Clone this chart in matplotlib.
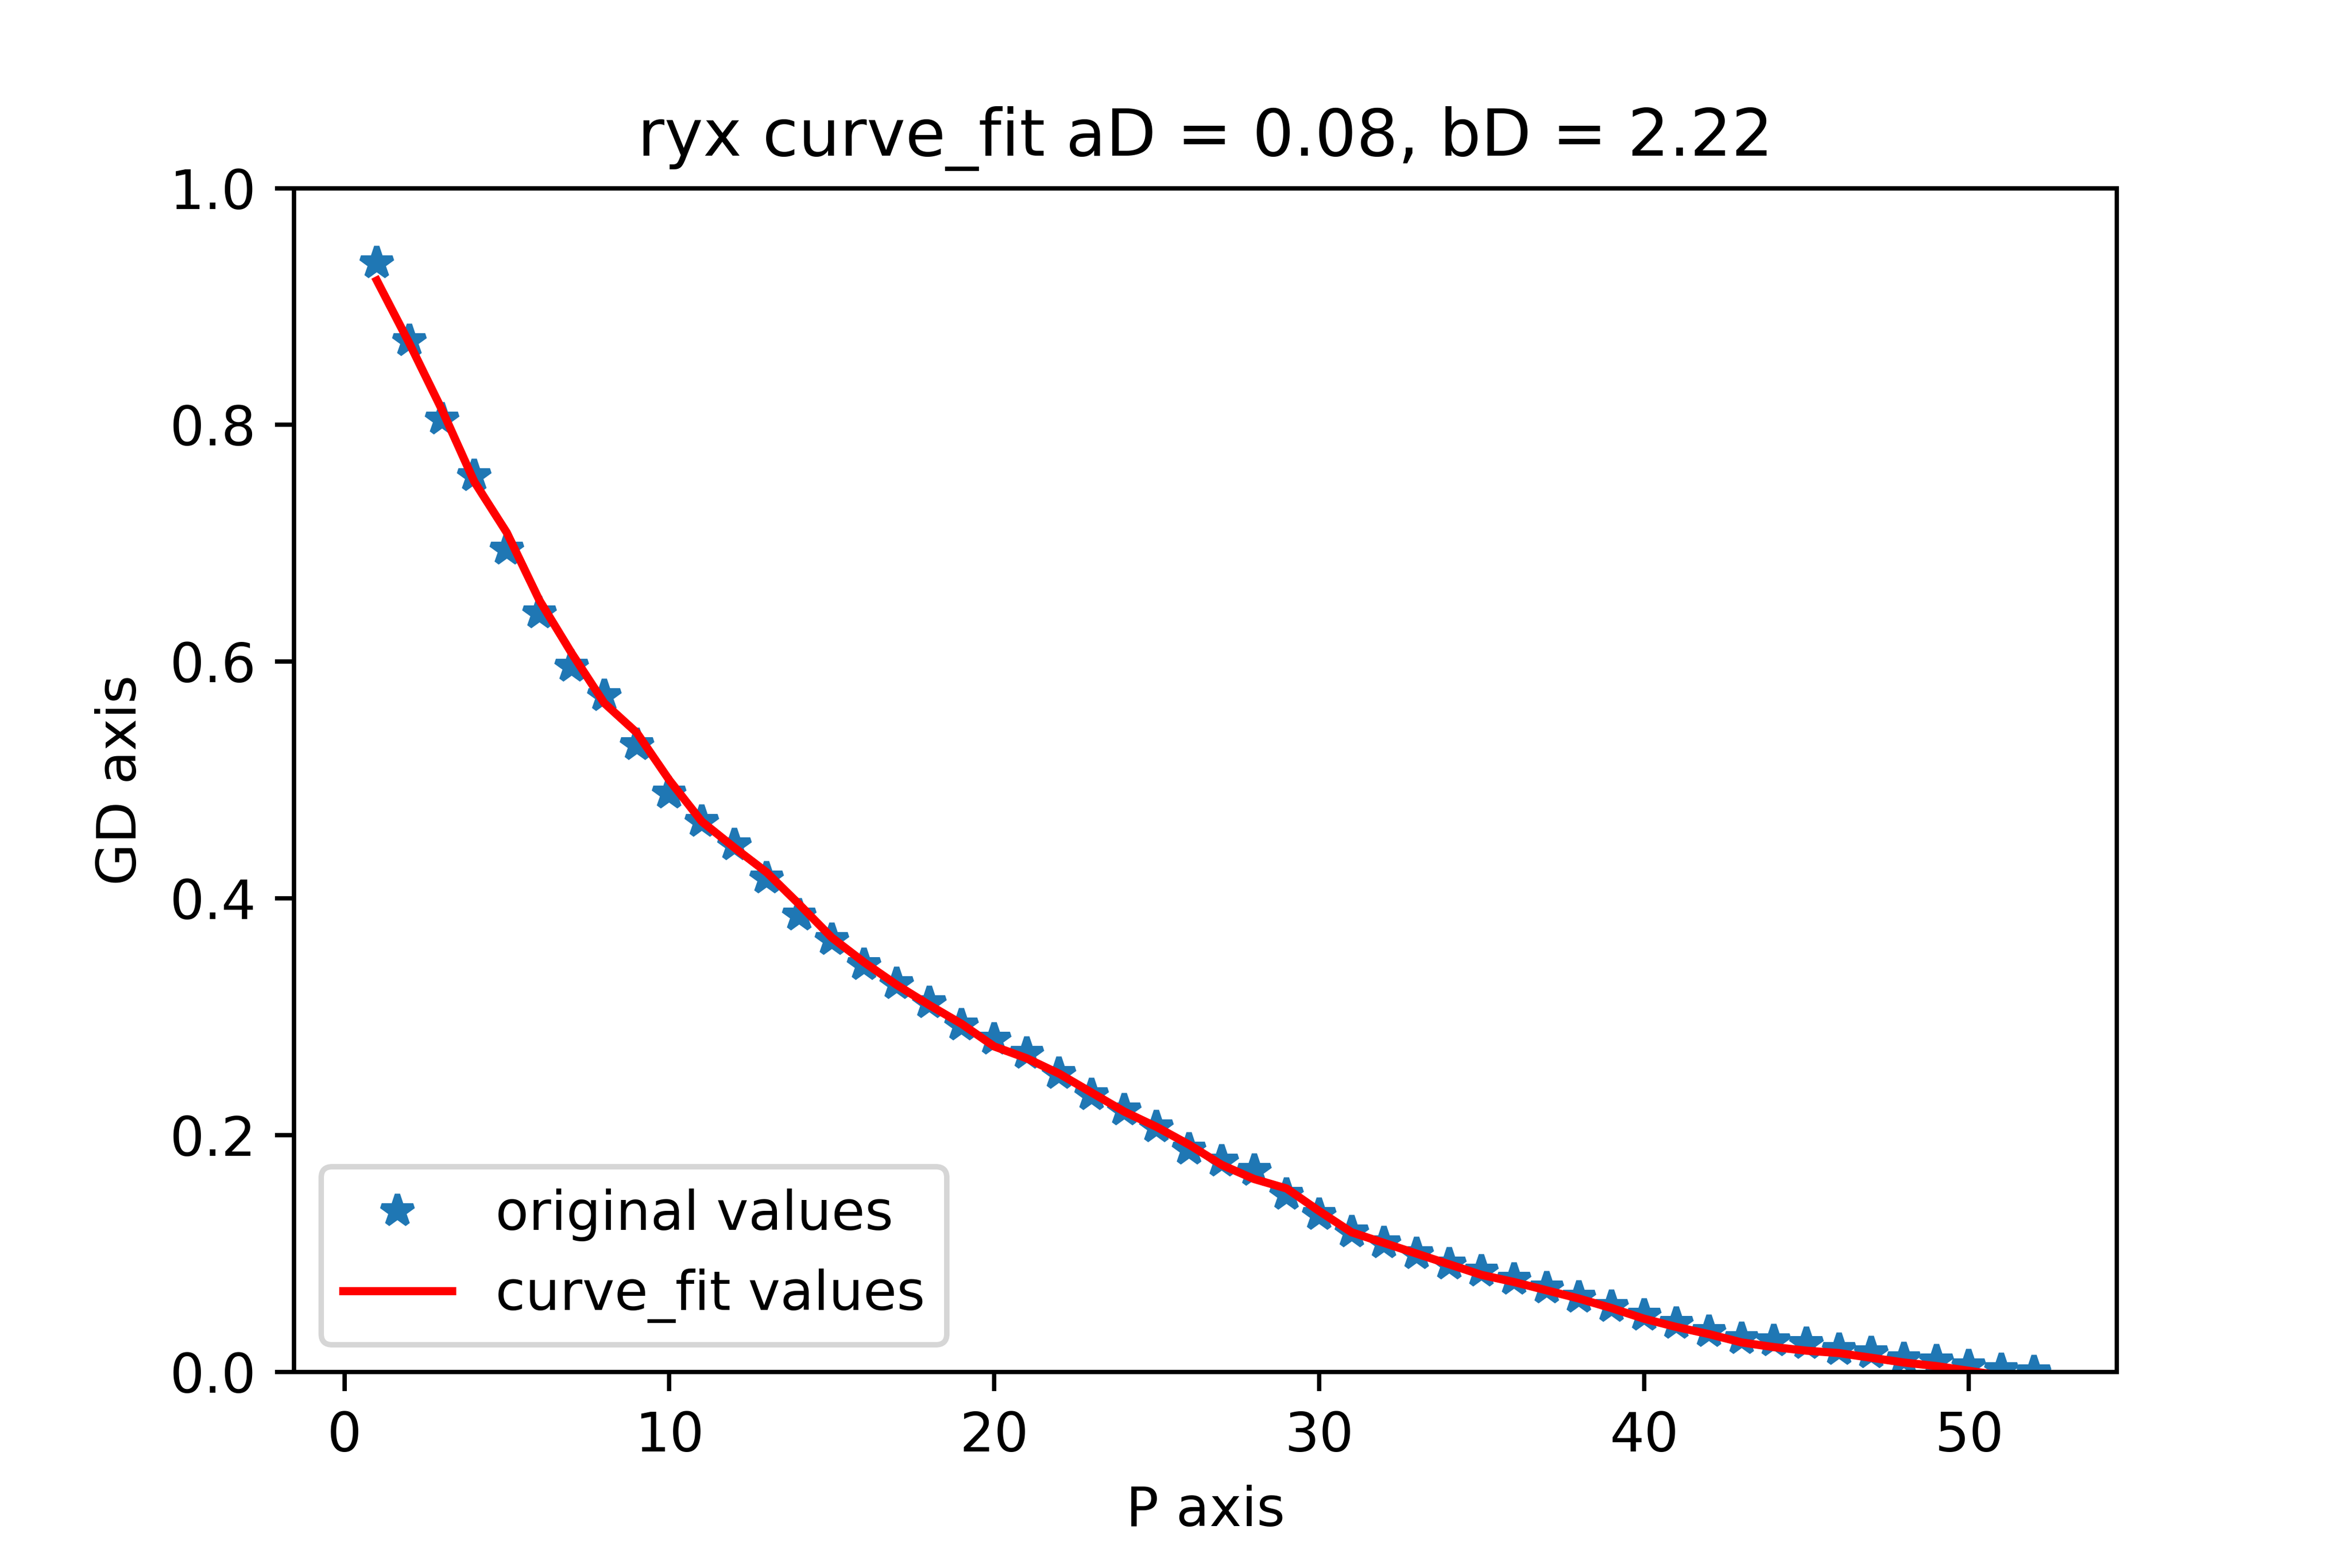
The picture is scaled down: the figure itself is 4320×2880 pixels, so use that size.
import matplotlib
matplotlib.use("Agg")
import matplotlib.pyplot as plt

# P values (x) and measured GD values
p_values = list(range(1, 53))
gd_original = [0.937, 0.871, 0.805, 0.757, 0.695, 0.641, 0.596, 0.571, 0.530, 0.489,
               0.465, 0.445, 0.417, 0.386, 0.365, 0.344, 0.328, 0.312, 0.293, 0.281,
               0.269, 0.252, 0.234, 0.221, 0.207, 0.188, 0.178, 0.170, 0.150, 0.133,
               0.118, 0.109, 0.100, 0.091, 0.085, 0.078, 0.071, 0.063, 0.055, 0.048,
               0.041, 0.034, 0.028, 0.026, 0.024, 0.019, 0.016, 0.011, 0.009, 0.005,
               0.002, 0.000]

# fitted GD values
gd_fit = [0.922, 0.869, 0.813, 0.752, 0.709, 0.652, 0.607, 0.565, 0.540, 0.500,
          0.465, 0.443, 0.422, 0.395, 0.367, 0.346, 0.327, 0.310, 0.294, 0.275,
          0.265, 0.252, 0.236, 0.220, 0.207, 0.192, 0.175, 0.163, 0.155, 0.136,
          0.118, 0.109, 0.100, 0.091, 0.082, 0.076, 0.069, 0.062, 0.054, 0.045,
          0.038, 0.032, 0.025, 0.021, 0.018, 0.016, 0.012, 0.008, 0.005, 0.001,
          -0.003, -0.007]

aD = 0.08
bD = 2.22

plt.figure(figsize=(6, 4))
plt.subplots_adjust(bottom=0.125)
plt.plot(p_values, gd_original, '*', label='original values')
plt.plot(p_values, gd_fit, 'r-', label='curve_fit values')
plt.title(f"ryx curve_fit aD = {aD:.2f}, bD = {bD:.2f}")
plt.xlabel("P axis")
plt.ylabel("GD axis")
plt.ylim(0, 1)
plt.legend(loc='lower left')
plt.savefig("out.png", dpi=720)
